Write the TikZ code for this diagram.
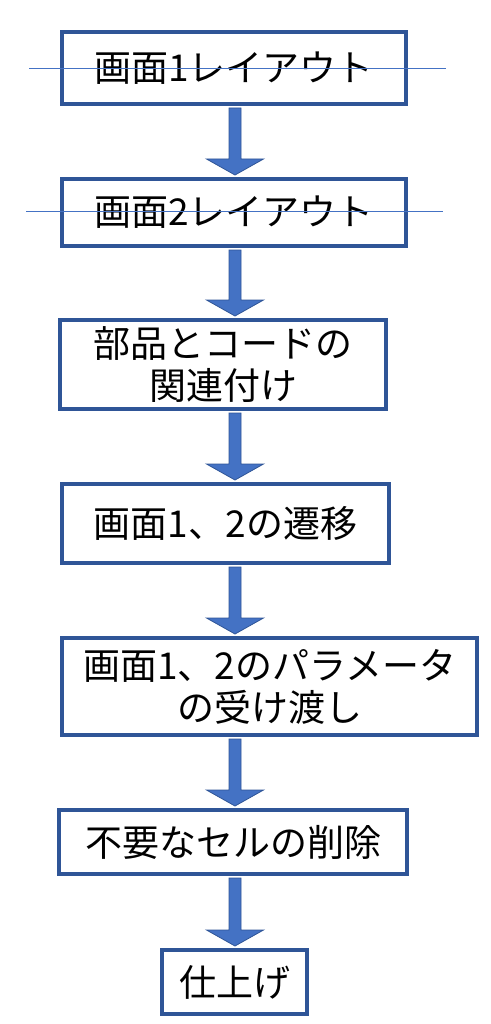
\documentclass[tikz,border=0pt]{standalone}
\usepackage{fontspec}
\newfontfamily\jpfont{Noto Sans CJK JP}
\usetikzlibrary{calc}
\definecolor{boxblue}{HTML}{2F5597}
\definecolor{arrowblue}{HTML}{4472C4}
\tikzset{
	stepbox/.style={draw=boxblue,line width=4pt,fill=white,inner sep=0pt,align=center,font=\jpfont\fontsize{37}{42}\selectfont},
	flow/.style={fill=arrowblue,draw=boxblue,line width=0.8pt,line join=miter},
	strike/.style={arrowblue,line width=1pt}
}
\newcommand\flowarrow[2]{%
	\draw[flow] ($(#1.south -| axis)+(-6,-2)$) -- ($(#2.north -| axis)+(-6,18)$) -- ++(-22.5,0)
		-- ($(#2.north -| axis)+(0,2)$) -- ($(#2.north -| axis)+(28.5,18)$) -- ++(-22.5,0)
		-- ($(#1.south -| axis)+(6,-2)$) -- cycle;}

\begin{document}
\begin{tikzpicture}[x=1pt,y=1pt]
	\useasboundingbox (0,0) rectangle (490,-1024);
	\coordinate (axis) at (235,0);
	\node[stepbox,minimum width=344pt,minimum height=72pt] (lay1) at (234,-68) {画面1レイアウト};
	\node[stepbox,minimum width=344pt,minimum height=67pt] (lay2) at (234,-212.5) {画面2レイアウト};
	\node[stepbox,minimum width=326pt,minimum height=89pt] (link) at (223,-364.5) {部品とコードの\\関連付け};
	\node[stepbox,minimum width=327pt,minimum height=79pt] (trans) at (225.5,-523.5) {画面1、2の遷移};
	\node[stepbox,minimum width=415pt,minimum height=97pt] (param) at (269.5,-686.5) {画面1、2のパラメータ\\の受け渡し};
	\node[stepbox,minimum width=348pt,minimum height=64pt] (cells) at (233,-842) {不要なセルの削除};
	\node[stepbox,minimum width=145pt,minimum height=64pt] (finish) at (234.5,-982) {仕上げ};
	\foreach \a/\b in {lay1/lay2,lay2/link,link/trans,trans/param,param/cells,cells/finish}
		\flowarrow{\a}{\b};
	\draw[strike] (29,-69) -- (446,-69);
	\draw[strike] (26,-212) -- (443,-212);
\end{tikzpicture}
\end{document}
